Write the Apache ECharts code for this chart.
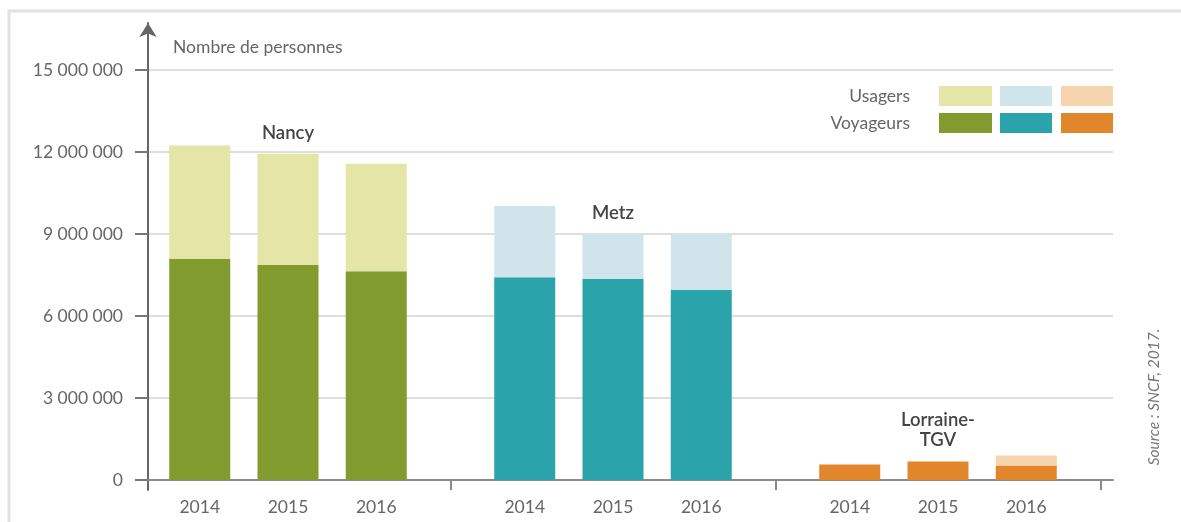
<!DOCTYPE html>
<html>
<head>
<meta charset="utf-8">
<script src="https://cdn.jsdelivr.net/npm/echarts@6/dist/echarts.min.js"></script>
<style>
html,body{margin:0;padding:0;background:#fff;}
#chart{width:1181px;height:522px;}
</style>
</head>
<body>
<div id="chart"></div>
<script>
// ---- data ----
var cities = ['Nancy', 'Metz', 'Lorraine-TGV'];
var cityLabels = ['Nancy', 'Metz', 'Lorraine-\nTGV'];
var years = ['2014', '2015', '2016'];
// values per city, in order of years
var nancyVoyageurs = [8090000, 7870000, 7640000];
var nancyUsagers = [12240000, 11940000, 11570000];
var metzVoyageurs = [7420000, 7360000, 6960000];
var metzUsagers = [10020000, 9010000, 9020000];
var lorraineVoyageurs = [570000, 680000, 530000];
var lorraineUsagers = [570000, 680000, 900000];
var yTicks = [0, 3000000, 6000000, 9000000, 12000000, 15000000];

// ---- styles ----
var voyColors = ['#829b2e', '#2aa4aa', '#e2862b'];
var usaColors = ['#e4e5a7', '#d0e5eb', '#f6d4ae'];
var FONT = 'Lato';
var TXT = '#666';
var FS = 17.5;

var voyByCity = [nancyVoyageurs, metzVoyageurs, lorraineVoyageurs];
var usaByCity = [nancyUsagers, metzUsagers, lorraineUsagers];

var series = [];
years.forEach(function (yr, yi) {
  series.push({
    type: 'bar', name: yr, xAxisIndex: 0, yAxisIndex: 0,
    stack: 'y' + yr, barWidth: 61, barGap: '44.7%',
    data: cities.map(function (c, ci) {
      return { value: voyByCity[ci][yi], itemStyle: { color: voyColors[ci] } };
    }),
    label: {
      show: true, position: 'bottom', distance: 18,
      formatter: '{a}', color: TXT, fontFamily: FONT, fontSize: FS
    },
    silent: true
  });
  series.push({
    type: 'bar', name: yr, xAxisIndex: 0, yAxisIndex: 0,
    stack: 'y' + yr, barWidth: 61, barGap: '44.7%',
    data: cities.map(function (c, ci) {
      return { value: usaByCity[ci][yi] - voyByCity[ci][yi], itemStyle: { color: usaColors[ci] } };
    }),
    label: {
      show: yi === 1, position: 'top', distance: 11,
      formatter: function (p) { return cityLabels[p.dataIndex]; },
      color: '#444', fontFamily: FONT, fontSize: 18.5, fontWeight: 600, lineHeight: 20
    },
    silent: true
  });
});

var yMax = yTicks[yTicks.length - 1];
var interval = yTicks[1] - yTicks[0];

var option = {
  backgroundColor: '#fff',
  animation: false,
  grid: [
    { left: 125.5, right: 80.5, top: 70, bottom: 42 },   // bars
    { left: 148, right: 68, top: 70, bottom: 42 },       // grid lines / labels
    { left: 148, right: 68, top: 23, bottom: 32 }        // axis arrow
  ],
  xAxis: [
    {
      type: 'category', gridIndex: 0, data: cities,
      axisLine: { show: false },
      axisTick: { show: true, length: 10, lineStyle: { color: '#888', width: 2 },
                  interval: function (i) { return i !== 0; } },
      axisLabel: { show: false }
    },
    {
      type: 'value', gridIndex: 1, min: 0, max: 1,
      axisLine: { show: true, onZero: false, lineStyle: { color: '#8c8c8c', width: 2 } },
      axisTick: { show: false }, axisLabel: { show: false }, splitLine: { show: false }
    },
    {
      type: 'value', gridIndex: 2, min: 0, max: 1, show: false
    }
  ],
  yAxis: [
    { type: 'value', gridIndex: 0, min: 0, max: yMax, show: false },
    {
      type: 'value', gridIndex: 1, min: 0, max: yMax, interval: interval,
      axisLine: { show: false },
      axisTick: { show: true, length: 13, lineStyle: { color: '#777', width: 2 } },
      axisLabel: {
        margin: 25, color: TXT, fontFamily: FONT, fontSize: FS,
        formatter: function (v) { return String(v).replace(/\B(?=(\d{3})+(?!\d))/g, ' '); }
      },
      splitLine: { show: true, lineStyle: { color: '#dedede', width: 2 } }
    },
    {
      type: 'value', gridIndex: 2, min: -10 / 409.5 * yMax, max: yMax + 47 / 409.5 * yMax,
      axisLine: { show: true, onZero: false, symbol: ['none', 'arrow'], symbolSize: [13, 14],
                  lineStyle: { color: '#666', width: 2 } },
      axisTick: { show: false }, axisLabel: { show: false }, splitLine: { show: false }
    }
  ],
  title: {
    text: 'Nombre de personnes', left: 168, top: 33,
    textStyle: { fontFamily: FONT, fontSize: FS, fontWeight: 'normal', color: TXT }
  },
  graphic: [
    { type: 'rect', shape: { x: 9, y: 11, width: 1300, height: 700 },
      style: { fill: 'none', stroke: '#e2e2e2', lineWidth: 3 }, silent: true, z: -10 },
    { type: 'text', x: 910, y: 96, style: { text: 'Usagers', align: 'right', verticalAlign: 'middle',
      font: FS + 'px ' + FONT, fill: TXT } },
    { type: 'text', x: 910, y: 123, style: { text: 'Voyageurs', align: 'right', verticalAlign: 'middle',
      font: FS + 'px ' + FONT, fill: TXT } },
    { type: 'rect', shape: { x: 939, y: 86, width: 53, height: 20 }, style: { fill: usaColors[0] } },
    { type: 'rect', shape: { x: 1000, y: 86, width: 52, height: 20 }, style: { fill: usaColors[1] } },
    { type: 'rect', shape: { x: 1061, y: 86, width: 52, height: 20 }, style: { fill: usaColors[2] } },
    { type: 'rect', shape: { x: 939, y: 113, width: 53, height: 20 }, style: { fill: voyColors[0] } },
    { type: 'rect', shape: { x: 1000, y: 113, width: 52, height: 20 }, style: { fill: voyColors[1] } },
    { type: 'rect', shape: { x: 1061, y: 113, width: 52, height: 20 }, style: { fill: voyColors[2] } },
    { type: 'text', x: 1154, y: 397, rotation: Math.PI / 2,
      style: { text: 'Source : SNCF, 2017.', align: 'center', verticalAlign: 'middle',
               font: 'italic 15.5px ' + FONT, fill: '#777' } }
  ],
  series: series
};

var chart = echarts.init(document.getElementById('chart'), null, { renderer: 'canvas' });
chart.setOption(option);
</script>
</body>
</html>
